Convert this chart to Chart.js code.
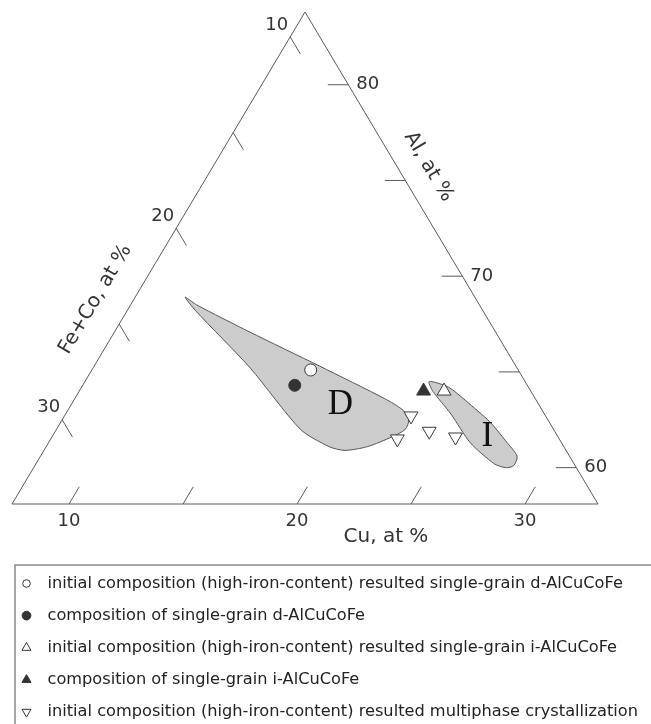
<!DOCTYPE html>
<html>
<head>
<meta charset="utf-8">
<script src="https://cdn.jsdelivr.net/npm/chart.js@4.4.1/dist/chart.umd.min.js"></script>
<style>
  html, body { margin: 0; padding: 0; background: #fff; }
  canvas { display: block; }
</style>
</head>
<body>
<canvas id="chart" width="651" height="724"></canvas>
<script>
// Composition window of the Al – Cu – (Fe+Co) section, at.%
const alMin = 58.1, cuMin = 7.5, fecoMin = 8.7, span = 25.7;

// Axis ticks, at.%
const cuTicks = [10, 15, 20, 25, 30];
const alTicks = [60, 65, 70, 75, 80];
const fecoTicks = [10, 15, 20, 25, 30];
const cuTickLabels = [10, 20, 30];
const alTickLabels = [60, 70, 80];
const fecoTickLabels = [10, 20, 30];

// Compositions as [Al, Cu, Fe+Co], at.%
const dInitial = [[65.1, 17.1, 17.8]];
const dGrain = [[64.3, 16.8, 18.9]];
const iInitial = [[64.0, 23.5, 12.5]];
const iGrain = [[64.0, 22.6, 13.4]];
const multiphase = [[62.7, 22.7, 14.6], [61.5, 22.7, 15.8], [61.9, 23.9, 14.2], [61.6, 25.2, 13.2]];

// Single-phase fields: decagonal (D) and icosahedral (I), traced as closed outlines
const regionD = [
  [65.3, 17.4, 17.3], [63.6, 21.1, 15.3], [63.0, 22.2, 14.8], [62.5, 22.7, 14.8],
  [62.0, 22.8, 15.2], [61.6, 22.4, 16.0], [61.1, 21.6, 17.3], [60.9, 20.7, 18.4],
  [61.1, 19.9, 19.0], [62.0, 18.2, 19.8], [65.2, 14.4, 20.4], [68.2, 10.5, 21.3],
  [68.9, 9.7, 21.4], [68.5, 10.4, 21.1], [67.1, 13.4, 19.5], [65.3, 17.4, 17.3]
];
const regionI = [
  [63.5, 24.7, 11.8], [62.4, 26.3, 11.3], [61.4, 27.5, 11.1], [60.6, 28.4, 11.0],
  [60.1, 28.5, 11.4], [60.0, 28.2, 11.8], [60.2, 27.6, 12.2], [61.3, 26.0, 12.7],
  [62.8, 24.4, 12.8], [64.0, 23.0, 13.0], [64.5, 22.6, 12.9], [64.2, 23.6, 12.2],
  [63.5, 24.7, 11.8]
];
const regionNames = ['D', 'I'];
const regionNameAt = [[63.3, 19.3, 17.4], [61.6, 26.6, 11.8]];

const legendLabels = [
  'initial composition (high-iron-content) resulted single-grain d-AlCuCoFe',
  'composition of single-grain d-AlCuCoFe',
  'initial composition (high-iron-content) resulted single-grain i-AlCuCoFe',
  'composition of single-grain i-AlCuCoFe',
  'initial composition (high-iron-content) resulted multiphase crystallization'
];

// ---- layout ----
const W = 651, H = 724;
const frame = { left: 12, width: 586, base: 504, height: 492 };
const tickLen = 0.9;           // tick length, at.%
const ink = '#333';
const lineInk = '#5a5a5a';
const sansFont = '"DejaVu Sans", Verdana, sans-serif';

// ternary composition -> plot coordinates (x along Cu base, y = Al fraction)
function toXY(comp) {
  const a = (comp[0] - alMin) / span;
  const c = (comp[1] - cuMin) / span;
  return { x: c + a / 2, y: a };
}

const vTop = [alMin + span, cuMin, fecoMin];
const vLeft = [alMin, cuMin, fecoMin + span];
const vRight = [alMin, cuMin + span, fecoMin];

const lineBase = {
  type: 'line', showLine: true, fill: false, pointRadius: 0,
  borderColor: lineInk, borderWidth: 1, tension: 0, order: 3
};

const datasets = [];
datasets.push({ ...lineBase, data: [vTop, vLeft, vRight, vTop].map(toXY) });

cuTicks.forEach(v => datasets.push({ ...lineBase,
  data: [[alMin, v, 100 - alMin - v], [alMin + tickLen, v, 100 - alMin - tickLen - v]].map(toXY) }));
alTicks.forEach(v => datasets.push({ ...lineBase,
  data: [[v, 100 - v - fecoMin, fecoMin], [v, 100 - v - fecoMin - tickLen, fecoMin + tickLen]].map(toXY) }));
fecoTicks.forEach(v => datasets.push({ ...lineBase,
  data: [[100 - v - cuMin, cuMin, v], [100 - v - cuMin - tickLen, cuMin + tickLen, v]].map(toXY) }));

[regionD, regionI].forEach(r => datasets.push({
  type: 'line', showLine: true, data: r.map(toXY), fill: 'shape',
  backgroundColor: '#cccccc', borderColor: '#555', borderWidth: 1,
  pointRadius: 0, tension: 0.25, order: 2
}));

const markerSeries = [
  { data: dInitial, style: 'circle', rot: 0, fill: '#fff', r: 6, lr: 3.8 },
  { data: dGrain, style: 'circle', rot: 0, fill: '#333', r: 6, lr: 4.4 },
  { data: iInitial, style: 'triangle', rot: 0, fill: '#fff', r: 8, lr: 5.2 },
  { data: iGrain, style: 'triangle', rot: 0, fill: '#333', r: 8, lr: 5.2 },
  { data: multiphase, style: 'triangle', rot: 180, fill: '#fff', r: 8, lr: 5.2 }
];
markerSeries.forEach((s, i) => datasets.push({
  type: 'scatter', label: legendLabels[i], data: s.data.map(toXY),
  pointStyle: s.style, pointRotation: s.rot, pointRadius: s.r,
  pointBackgroundColor: s.fill, pointBorderColor: '#3a3a3a', pointBorderWidth: 1,
  legendRadius: s.lr, order: 0
}));

// axis labels, titles, field names and the boxed key
const annotate = {
  id: 'ternaryText',
  afterDraw(chart) {
    const ctx = chart.ctx, sx = chart.scales.x, sy = chart.scales.y;
    const px = comp => { const p = toXY(comp); return [sx.getPixelForValue(p.x), sy.getPixelForValue(p.y)]; };
    const [tx, ty] = px(vTop), [lx, ly] = px(vLeft), [rx, ry] = px(vRight);
    ctx.save();
    ctx.fillStyle = ink;
    ctx.font = '18px ' + sansFont;

    // Cu tick labels below the base
    ctx.textAlign = 'center'; ctx.textBaseline = 'middle';
    cuTickLabels.forEach(v => { const [x, y] = px([alMin, v, 100 - alMin - v]); ctx.fillText(String(v), x, y + 17); });
    // Al tick labels right of the right side
    ctx.textAlign = 'left';
    alTickLabels.forEach(v => { const [x, y] = px([v, 100 - v - fecoMin, fecoMin]); ctx.fillText(String(v), x + 8, y); });
    // Fe+Co tick labels left of the left side
    ctx.textAlign = 'right';
    fecoTickLabels.forEach(v => { const [x, y] = px([100 - v - cuMin, cuMin, v]); ctx.fillText(String(v), x - 2, y - 12); });

    // axis titles
    ctx.font = '20px ' + sansFont;
    ctx.textAlign = 'center';
    const [cx, cy] = px([alMin, 23.9, 100 - alMin - 23.9]);
    ctx.fillText('Cu, at %', cx, cy + 33);

    const angR = Math.atan2(ry - ty, rx - tx);
    const [ax, ay] = px([75, 100 - 75 - fecoMin, fecoMin]);
    ctx.save();
    ctx.translate(ax + Math.sin(angR) * 27, ay - Math.cos(angR) * 27);
    ctx.rotate(angR);
    ctx.fillText('Al, at %', 0, 0);
    ctx.restore();

    const angL = Math.atan2(ty - ly, tx - lx);
    const [fx, fy] = px([100 - 24.6 - cuMin, cuMin, 24.6]);
    ctx.save();
    ctx.translate(fx + Math.sin(angL) * 33, fy - Math.cos(angL) * 33);
    ctx.rotate(angL);
    ctx.fillText('Fe+Co, at %', 0, 0);
    ctx.restore();

    // field names
    ctx.fillStyle = '#111';
    ctx.font = '35px "Liberation Serif", "Times New Roman", serif';
    regionNames.forEach((n, i) => { const [x, y] = px(regionNameAt[i]); ctx.fillText(n, x, y); });

    // key box
    const box = { left: 15, top: 565, row0: 583.5, rowGap: 32.1, mark: 26.5, text: 47.5 };
    ctx.strokeStyle = '#8a8a8a'; ctx.lineWidth = 1.5;
    ctx.beginPath();
    ctx.moveTo(box.left, H + 2); ctx.lineTo(box.left, box.top); ctx.lineTo(W + 2, box.top);
    ctx.stroke();

    ctx.font = '16.2px ' + sansFont;
    ctx.textAlign = 'left'; ctx.textBaseline = 'middle';
    const keyed = chart.data.datasets.filter(d => d.label);
    keyed.forEach((d, i) => {
      const y = box.row0 + i * box.rowGap;
      ctx.fillStyle = d.pointBackgroundColor; ctx.strokeStyle = '#333'; ctx.lineWidth = 1;
      Chart.helpers.drawPoint(ctx, { pointStyle: d.pointStyle, rotation: d.pointRotation,
        radius: d.legendRadius, borderWidth: 1 }, box.mark, y);
      ctx.fillStyle = '#222';
      ctx.fillText(d.label, box.text, y);
    });
    ctx.restore();
  }
};

new Chart(document.getElementById('chart'), {
  type: 'scatter',
  data: { datasets },
  options: {
    responsive: false, animation: false, devicePixelRatio: 1,
    layout: { padding: 0, autoPadding: false },
    events: [],
    plugins: { legend: { display: false }, tooltip: { enabled: false } },
    scales: {
      x: { display: false, min: -frame.left / frame.width, max: (W - frame.left) / frame.width },
      y: { display: false, min: (frame.base - H) / frame.height, max: frame.base / frame.height }
    }
  },
  plugins: [annotate]
});
</script>
</body>
</html>
